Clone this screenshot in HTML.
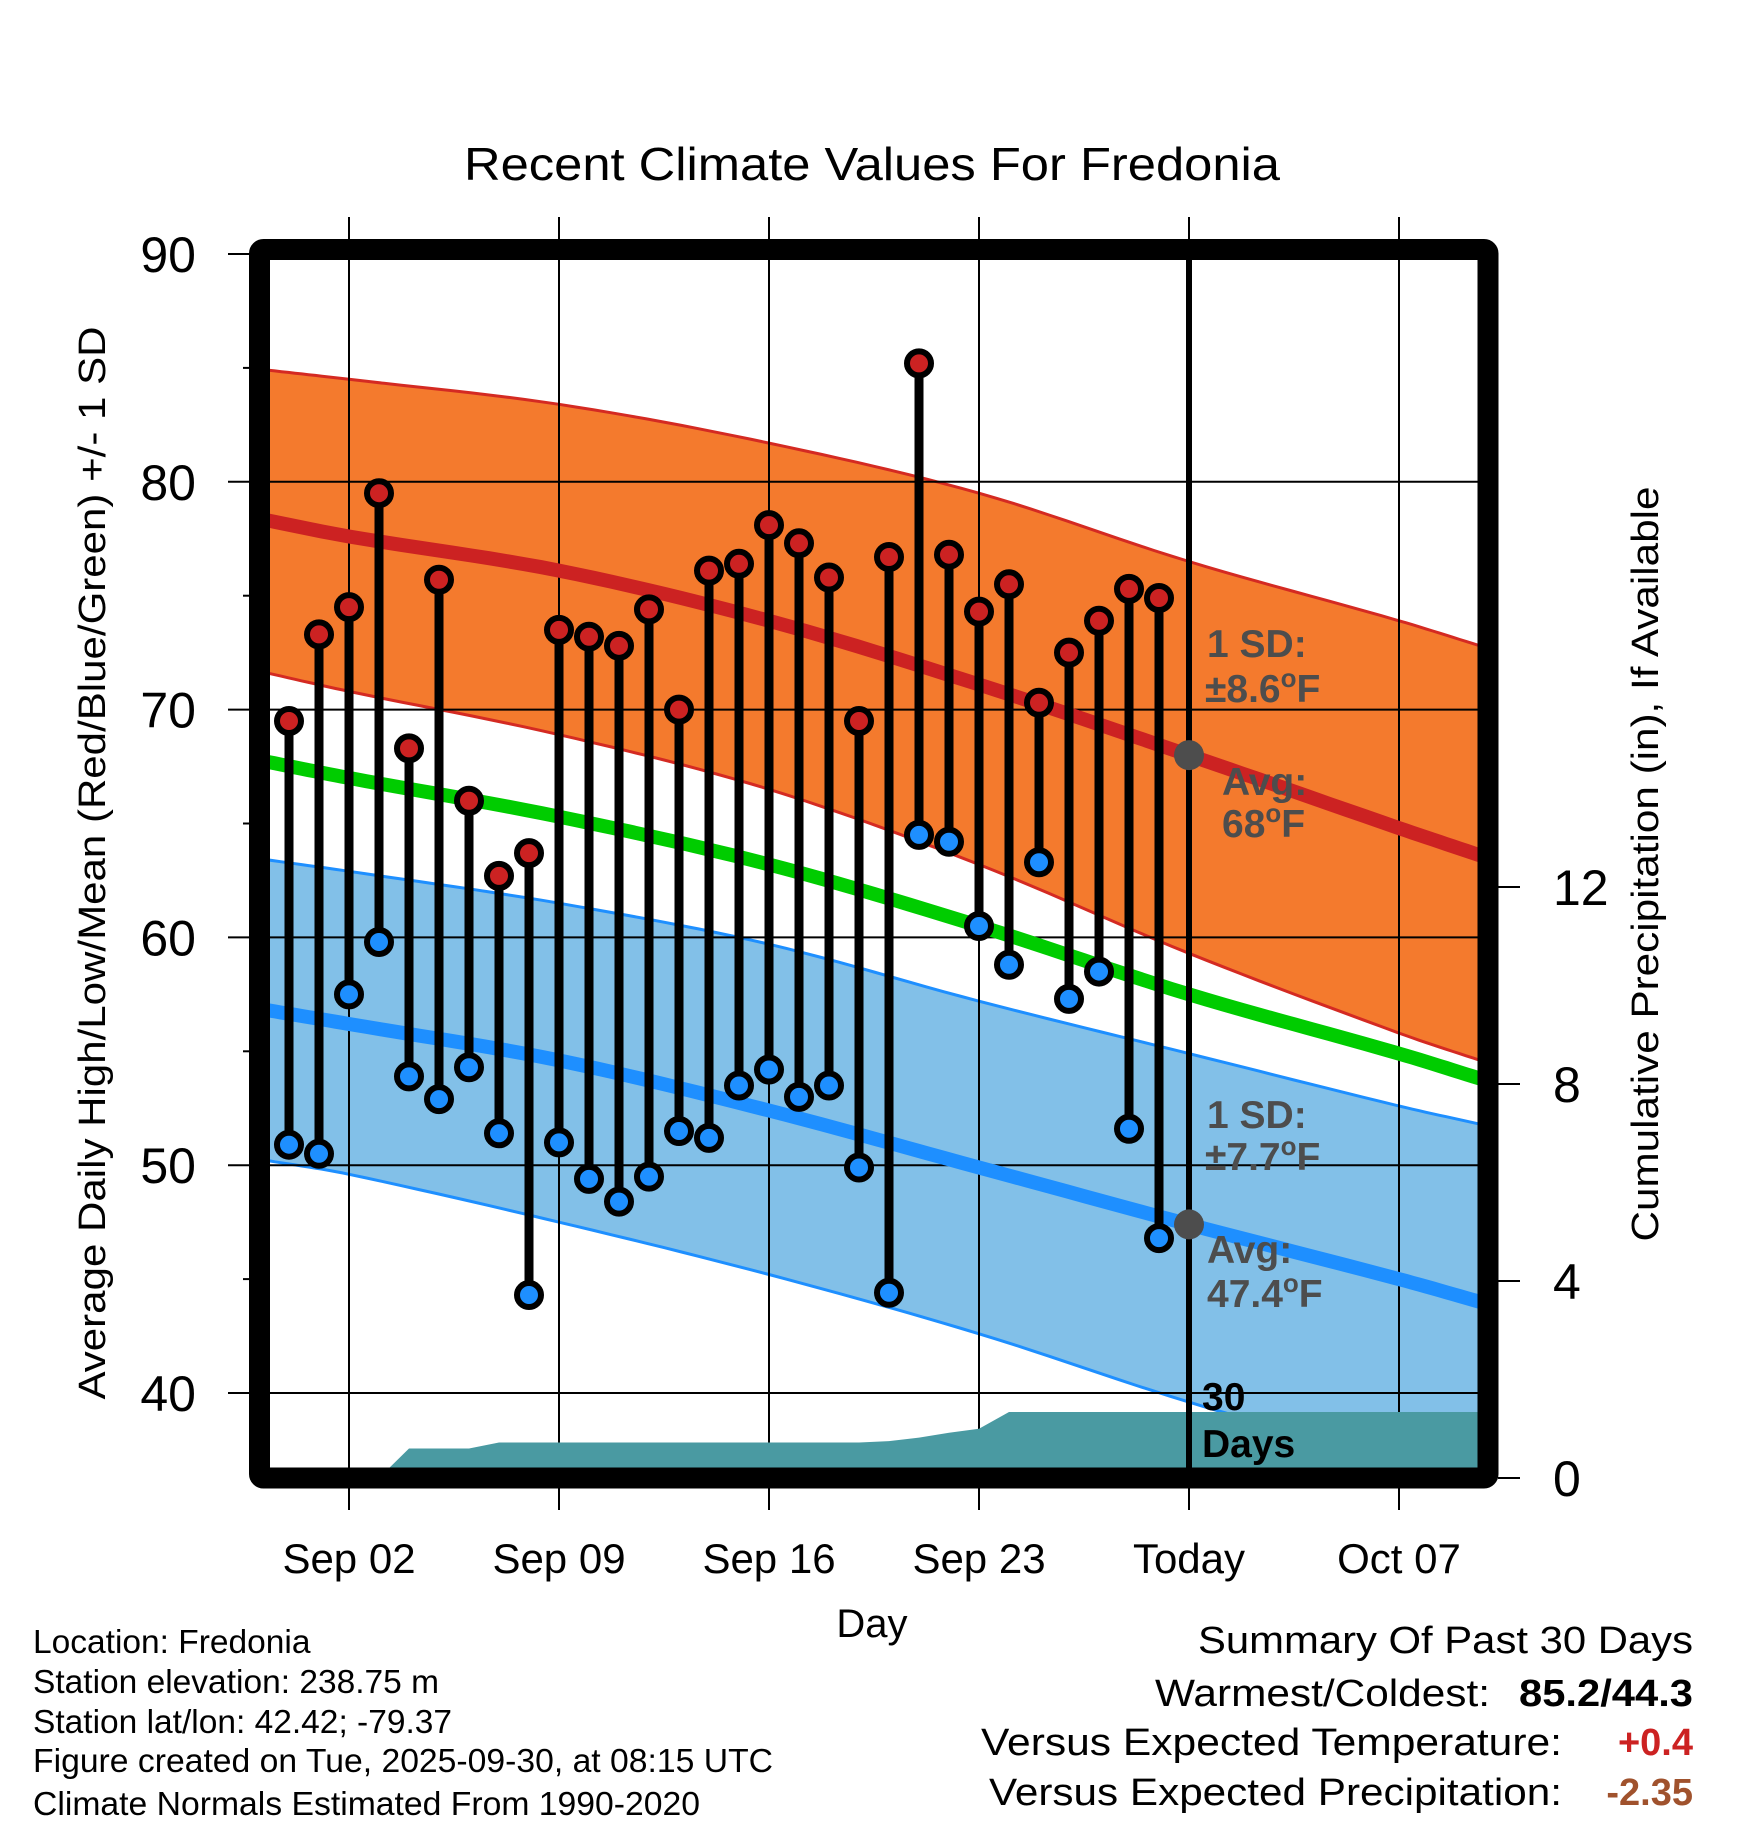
<!DOCTYPE html>
<html><head><meta charset="utf-8"><style>
html,body{margin:0;padding:0;background:#fff;}
svg{display:block;font-family:"Liberation Sans",Arial,sans-serif;}
</style></head><body>
<svg id="chart" width="1748" height="1828" viewBox="0 0 1748 1828" xmlns="http://www.w3.org/2000/svg">
<defs><clipPath id="plotclip"><rect x="270" y="260" width="1208" height="1208"/></clipPath></defs>
<rect x="0" y="0" width="1748" height="1828" fill="#fff"/>
<text x="872" y="180" font-size="46" text-anchor="middle" textLength="816" lengthAdjust="spacingAndGlyphs">Recent Climate Values For Fredonia</text>
<g id="bands" clip-path="url(#plotclip)"></g>
<g id="grid"></g>
<g id="means" clip-path="url(#plotclip)"></g>
<g id="precip" clip-path="url(#plotclip)"></g>
<g id="obs"></g>
<g id="axes"></g>
<g font-weight="bold" font-size="39" fill="#4d4d4d">
<text x="1207" y="657">1 SD:</text>
<text x="1205" y="702">±8.6<tspan font-size="26" dy="-15">o</tspan><tspan dy="15">F</tspan></text>
<text x="1222" y="795">Avg:</text>
<text x="1222" y="837">68<tspan font-size="26" dy="-15">o</tspan><tspan dy="15">F</tspan></text>
<text x="1207" y="1128">1 SD:</text>
<text x="1205" y="1170">±7.7<tspan font-size="26" dy="-15">o</tspan><tspan dy="15">F</tspan></text>
<text x="1207" y="1263">Avg:</text>
<text x="1207" y="1307">47.4<tspan font-size="26" dy="-15">o</tspan><tspan dy="15">F</tspan></text>
<text x="1202" y="1410" fill="#000">30</text>
<text x="1202" y="1457" fill="#000">Days</text>
</g>
<rect x="259.5" y="249.5" width="1228.5" height="1228.5" rx="4" fill="none" stroke="#000" stroke-width="21"/>
<text transform="translate(105,863) rotate(-90)" font-size="38" text-anchor="middle" textLength="1073" lengthAdjust="spacingAndGlyphs">Average Daily High/Low/Mean (Red/Blue/Green) +/- 1 SD</text>
<text transform="translate(1658,864) rotate(-90)" font-size="38" text-anchor="middle" textLength="755" lengthAdjust="spacingAndGlyphs">Cumulative Precipitation (in), If Available</text>
<text x="872" y="1637" font-size="40" text-anchor="middle">Day</text>
<g font-size="33.5">
<text x="33" y="1653">Location: Fredonia</text>
<text x="33" y="1693">Station elevation: 238.75 m</text>
<text x="33" y="1733">Station lat/lon: 42.42; -79.37</text>
<text x="33" y="1772" textLength="740" lengthAdjust="spacingAndGlyphs">Figure created on Tue, 2025-09-30, at 08:15 UTC</text>
<text x="33" y="1815" textLength="667" lengthAdjust="spacingAndGlyphs">Climate Normals Estimated From 1990-2020</text>
</g>
<g font-size="38">
<text x="1693" y="1653" text-anchor="end" textLength="495" lengthAdjust="spacingAndGlyphs">Summary Of Past 30 Days</text>
<text x="1155" y="1706" textLength="335" lengthAdjust="spacingAndGlyphs">Warmest/Coldest:</text>
<text x="1693" y="1706" text-anchor="end" font-weight="bold" textLength="174" lengthAdjust="spacingAndGlyphs">85.2/44.3</text>
<text x="981" y="1755" textLength="581" lengthAdjust="spacingAndGlyphs">Versus Expected Temperature:</text>
<text x="1693" y="1755" text-anchor="end" font-weight="bold" fill="#cc2222">+0.4</text>
<text x="989" y="1805" textLength="573" lengthAdjust="spacingAndGlyphs">Versus Expected Precipitation:</text>
<text x="1693" y="1805" text-anchor="end" font-weight="bold" fill="#a0522d">-2.35</text>
</g>
</svg>
<script>
// ---- data ----
const obsDays = [0,1,2,3,4,5,6,7,8,9,10,11,12,13,14,15,16,17,18,19,20,21,22,23,24,25,26,27,28,29];
const highs = [69.5,73.3,74.5,79.5,68.3,75.7,66.0,62.7,63.7,73.5,73.2,72.8,74.4,70.0,76.1,76.4,78.1,77.3,75.8,69.5,76.7,85.2,76.8,74.3,75.5,70.3,72.5,73.9,75.3,74.9];
const lows = [50.9,50.5,57.5,59.8,53.9,52.9,54.3,51.4,44.3,51.0,49.4,48.4,49.5,51.5,51.2,53.5,54.2,53.0,53.5,49.9,44.4,64.5,64.2,60.5,58.8,63.3,57.3,58.5,51.6,46.8];
const precipCum = [0,0,0,0,0.6,0.6,0.6,0.72,0.72,0.72,0.72,0.72,0.72,0.72,0.72,0.72,0.72,0.72,0.72,0.72,0.75,0.82,0.92,1.0,1.34,1.34,1.34,1.34,1.34,1.34];
const normDays = [-0.7,2,9,16,23,30,37,39.7];
const normHigh = [78.3,77.6,76.1,73.9,71.1,68.0,64.8,63.6];
const normHighUpper = [84.9,84.5,83.4,81.7,79.5,76.5,73.9,72.8];
const normHighLower = [71.6,70.8,68.9,66.5,63.2,59.3,55.8,54.6];
const normMean = [67.7,67.0,65.3,63.2,60.5,57.5,54.9,53.8];
const normLow = [56.8,56.2,54.6,52.4,49.9,47.4,45.0,44.0];
const normLowUpper = [63.4,62.9,61.5,59.7,57.2,54.9,52.6,51.8];
const normLowLower = [50.2,49.6,47.5,45.2,42.6,39.6,37.0,36.0];
const yTicks = [40,50,60,70,80,90];
const y2Ticks = [0,4,8,12];
const xTickDays = [2,9,16,23,30,37];
const xTickLabels = ["Sep 02","Sep 09","Sep 16","Sep 23","Today","Oct 07"];
const todayDay = 30;

// ---- scales ----
const xs = d => 349 + (d-2)*30;
const yT = v => 1393 - (v-40)*22.78;
const yP = p => 1478 - p*49.25;
const NS = "http://www.w3.org/2000/svg";
function mk(tag, attrs, parent){const e=document.createElementNS(NS,tag);for(const k in attrs)e.setAttribute(k,attrs[k]);parent.appendChild(e);return e;}
const g = id => document.getElementById(id);

function smooth(ds, vs){
  const out = [];
  const n = ds.length;
  for (let i=0;i<n-1;i++){
    const d0=ds[Math.max(i-1,0)], d1=ds[i], d2=ds[i+1], d3=ds[Math.min(i+2,n-1)];
    const v0=vs[Math.max(i-1,0)], v1=vs[i], v2=vs[i+1], v3=vs[Math.min(i+2,n-1)];
    const m1=(v2-v0)/((d2-d0)||1), m2=(v3-v1)/((d3-d1)||1);
    const h=d2-d1;
    for (let k=0;k<12;k++){
      const t=k/12, t2=t*t, t3=t2*t;
      const v=(2*t3-3*t2+1)*v1+(t3-2*t2+t)*h*m1+(-2*t3+3*t2)*v2+(t3-t2)*h*m2;
      out.push(xs(d1+t*h).toFixed(1)+","+yT(v).toFixed(1));
    }
  }
  out.push(xs(ds[n-1]).toFixed(1)+","+yT(vs[n-1]).toFixed(1));
  return out;
}

function band(upper, lower, fill, edge, name){
  const p = smooth(normDays, upper).concat(smooth(normDays, lower).reverse());
  const poly = mk('polygon',{points:p.join(' '),fill:fill},g('bands'));
  
  
  [upper, lower].forEach(arr=>{
    const l = mk('polyline',{points:smooth(normDays,arr).join(' '),fill:'none',stroke:edge,'stroke-width':3},g('bands'));
    
    
  });
}
band(normHighUpper, normHighLower, '#f47a2d', '#d42a22', 'high-sd-band');
band(normLowUpper, normLowLower, '#82c0e8', '#1e8fff', 'low-sd-band');

yTicks.forEach(v=>{
  const l = mk('line',{x1:270,x2:1478,y1:yT(v),y2:yT(v),stroke:'#000','stroke-width':2},g('grid'));
  
  
});
xTickDays.forEach(d=>{
  const l = mk('line',{x1:xs(d),x2:xs(d),y1:217,y2:1510,stroke:'#000','stroke-width':2},g('grid'));
  
  
});

function meanLine(arr, color, name){
  const l = mk('polyline',{points:smooth(normDays,arr).join(' '),fill:'none',stroke:color,'stroke-width':14},g('means'));
  
  
}
meanLine(normHigh, '#cc2222', 'normal-high-line');
meanLine(normMean, '#00cc00', 'normal-mean-line');
meanLine(normLow, '#1e8fff', 'normal-low-line');

(function(){
  const p = [xs(obsDays[0])+","+yP(0)];
  obsDays.forEach((d,i)=>p.push(xs(d).toFixed(1)+","+yP(precipCum[i]).toFixed(1)));
  const last = precipCum[precipCum.length-1];
  p.push("1480,"+yP(last).toFixed(1));
  p.push("1480,"+yP(0));
  const a = mk('polygon',{points:p.join(' '),fill:'#4a9aa2'},g('precip'));
  
  
})();

obsDays.forEach((d,i)=>{
  const x = xs(d);
  const s = mk('line',{x1:x,x2:x,y1:yT(highs[i]),y2:yT(lows[i]),stroke:'#000','stroke-width':9},g('obs'));
  
  
});
obsDays.forEach((d,i)=>{
  const x = xs(d);
  const h = mk('circle',{cx:x,cy:yT(highs[i]),r:12,fill:'#cc2222',stroke:'#000','stroke-width':6},g('obs'));
  
  
  const lo = mk('circle',{cx:x,cy:yT(lows[i]),r:12,fill:'#1e8fff',stroke:'#000','stroke-width':6},g('obs'));
  
  
});

(function(){
  const x = xs(todayDay);
  const t = mk('line',{x1:x,x2:x,y1:260,y2:1468,stroke:'#000','stroke-width':6},g('axes'));
  
  
  const i = normDays.indexOf(todayDay);
  const c1 = mk('circle',{cx:x,cy:yT(normHigh[i]),r:15,fill:'#4d4d4d'},g('axes'));
  
  
  const c2 = mk('circle',{cx:x,cy:yT(normLow[i]),r:15,fill:'#4d4d4d'},g('axes'));
  
  
})();

yTicks.forEach(v=>{
  const t = mk('line',{x1:228,x2:250,y1:yT(v),y2:yT(v),stroke:'#000','stroke-width':2},g('axes'));
  
  
  const l = mk('text',{x:196,y:yT(v)+18,'font-size':50,'text-anchor':'end'},g('axes'));
  l.textContent = v;
  
  
  if (v < 90){
    const m = mk('line',{x1:243,x2:250,y1:yT(v+5),y2:yT(v+5),stroke:'#000','stroke-width':2},g('axes'));
    
    
  }
});
y2Ticks.forEach(p=>{
  const t = mk('line',{x1:1498,x2:1520,y1:yP(p),y2:yP(p),stroke:'#000','stroke-width':2},g('axes'));
  
  
  const l = mk('text',{x:1553,y:yP(p)+18,'font-size':50},g('axes'));
  l.textContent = p;
  
  
});
xTickDays.forEach((d,i)=>{
  const l = mk('text',{x:xs(d),y:1573,'font-size':42,'text-anchor':'middle'},g('axes'));
  l.textContent = xTickLabels[i];
  
  
});
</script>
</body></html>
